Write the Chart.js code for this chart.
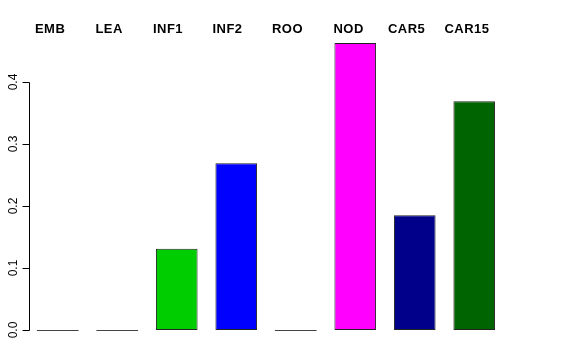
<!DOCTYPE html>
<html>
<head>
<meta charset="utf-8">
<script src="https://cdn.jsdelivr.net/npm/chart.js@4/dist/chart.umd.min.js"></script>
<style>
  html, body { margin: 0; padding: 0; background: #fff; }
  #wrap { width: 576px; height: 360px; }
</style>
</head>
<body>
<div id="wrap"><canvas id="myChart" width="576" height="360"></canvas></div>
<script>
// tissue groups and their values
var categories = ['EMB', 'LEA', 'INF1', 'INF2', 'ROO', 'NOD', 'CAR5', 'CAR15'];
var values = [0, 0, 0.131, 0.269, 0, 0.463, 0.185, 0.369];
var barColors = ['#FF0000', '#00FFFF', '#00CD00', '#0000FF', '#8B4513', '#FF00FF', '#00008B', '#006400'];
var yTicks = [0, 0.1, 0.2, 0.3, 0.4];
var yTickLabels = ['0.0', '0.1', '0.2', '0.3', '0.4'];
var labelShift = [-2, -1, -3, -3, -3, -1, -6, -9];

// R style axis: line only over tick range, rotated labels
var rAxis = {
    id: 'rAxis',
    afterDatasetsDraw: function (chart) {
        var ctx = chart.ctx;
        var y = chart.scales.y;
        var meta = chart.getDatasetMeta(0);
        var x0 = 29.5;
        var i;
        ctx.save();
        // zero height bars show up as a flat line in R
        var zy = Math.round(y.getPixelForValue(0)) + 0.5;
        ctx.strokeStyle = '#444444';
        ctx.lineWidth = 1.2;
        ctx.beginPath();
        for (i = 0; i < meta.data.length; i++) {
            if (values[i] === 0) {
                var b = meta.data[i];
                ctx.moveTo(b.x - b.width / 2, zy);
                ctx.lineTo(b.x + b.width / 2, zy);
            }
        }
        ctx.stroke();

        ctx.strokeStyle = '#000';
        ctx.lineWidth = 1;
        ctx.beginPath();
        ctx.moveTo(x0, Math.round(y.getPixelForValue(yTicks[0])) + 0.5);
        ctx.lineTo(x0, Math.round(y.getPixelForValue(yTicks[yTicks.length - 1])) + 0.5);
        for (i = 0; i < yTicks.length; i++) {
            var py = Math.round(y.getPixelForValue(yTicks[i])) + 0.5;
            ctx.moveTo(x0, py);
            ctx.lineTo(x0 - 7, py);
        }
        ctx.stroke();
        ctx.fillStyle = '#000';
        ctx.font = '12px "Liberation Sans", Arial, sans-serif';
        ctx.textAlign = 'center';
        ctx.textBaseline = 'middle';
        for (i = 0; i < yTicks.length; i++) {
            var p = y.getPixelForValue(yTicks[i]);
            ctx.save();
            ctx.translate(13.5, p);
            ctx.rotate(-Math.PI / 2);
            ctx.fillText(yTickLabels[i], 0, 0);
            ctx.restore();
        }
        // group names above the bars
        ctx.font = 'bold 13px "Liberation Sans", Arial, sans-serif';
        ctx.letterSpacing = '0.5px';
        ctx.textAlign = 'left';
        ctx.textBaseline = 'middle';
        for (i = 0; i < meta.data.length; i++) {
            var bar = meta.data[i];
            var left = bar.x - bar.width / 2;
            ctx.fillText(categories[i], left + labelShift[i], 29);
        }
        ctx.restore();
    }
};

var ctx = document.getElementById('myChart');
var chart = new Chart(ctx, {
    type: 'bar',
    data: {
        labels: categories,
        datasets: [{
            data: values,
            backgroundColor: barColors,
            borderColor: '#222222',
            borderWidth: 1,
            borderSkipped: false,
            barPercentage: 0.70,
            categoryPercentage: 1.0
        }]
    },
    options: {
        responsive: false,
        animation: false,
        layout: { padding: { left: 28, right: 72, top: 31.5, bottom: 18.5 } },
        plugins: {
            legend: { display: false },
            tooltip: { enabled: false }
        },
        scales: {
            x: { display: false, offset: true },
            y: { display: false, min: -0.0185, max: 0.4815 }
        }
    },
    plugins: [rAxis]
});
</script>
</body>
</html>
